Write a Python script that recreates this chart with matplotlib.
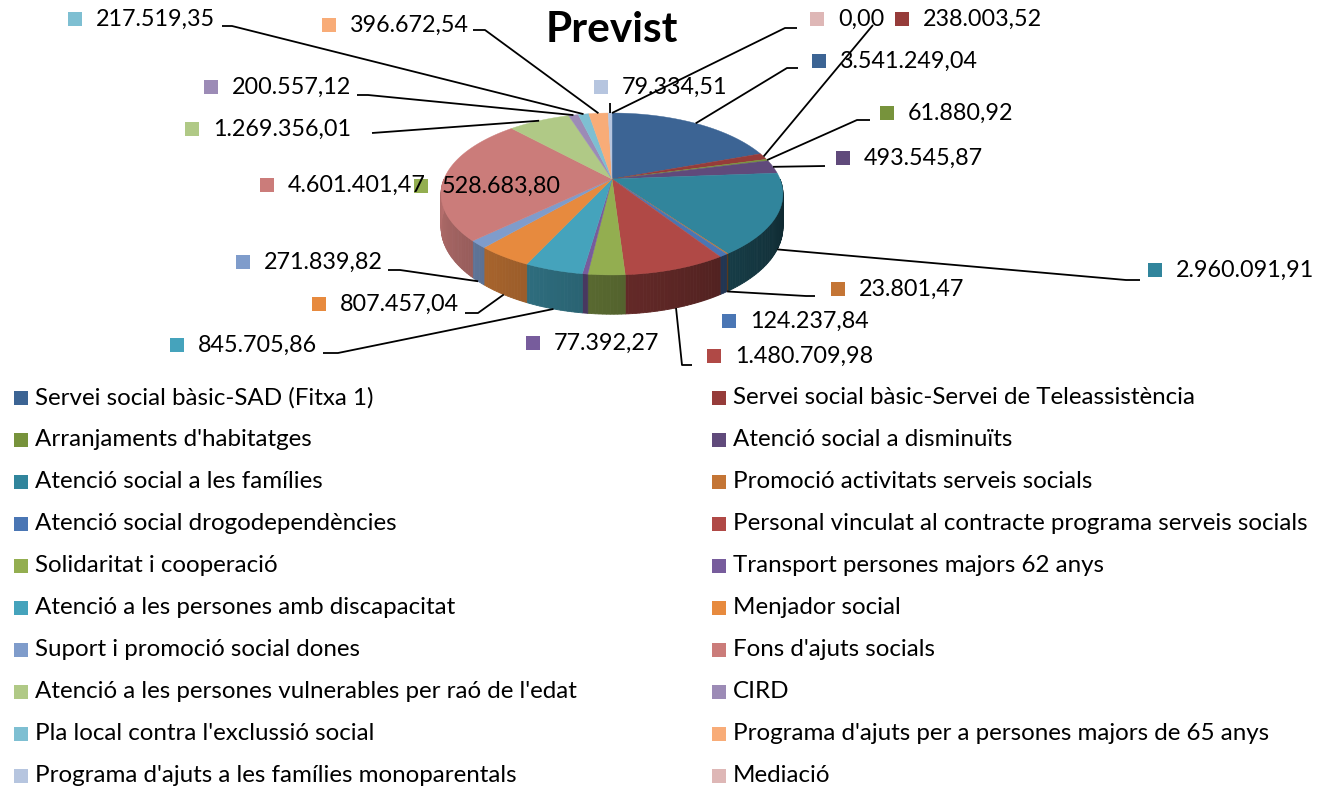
import numpy as np
import matplotlib
matplotlib.use('Agg')
import matplotlib.pyplot as plt
from matplotlib.patches import Polygon, Rectangle
from matplotlib.colors import to_rgb

plt.rcParams['font.family'] = ['Lato', 'DejaVu Sans']

# Data: budget items ("Previst"), in pie order (clockwise from 12 o'clock)
categories = [
    "Servei social bàsic-SAD (Fitxa 1)",
    "Servei social bàsic-Servei de Teleassistència",
    "Arranjaments d'habitatges",
    "Atenció social a disminuïts",
    "Atenció social a les famílies",
    "Promoció activitats serveis socials",
    "Atenció social drogodependències",
    "Personal vinculat al contracte programa serveis socials",
    "Solidaritat i cooperació",
    "Transport persones majors 62 anys",
    "Atenció a les persones amb discapacitat",
    "Menjador social",
    "Suport i promoció social dones",
    "Fons d'ajuts socials",
    "Atenció a les persones vulnerables per raó de l'edat",
    "CIRD",
    "Pla local contra l'exclussió social",
    "Programa d'ajuts per a persones majors de 65 anys",
    "Programa d'ajuts a les famílies monoparentals",
    "Mediació",
]
values = [3541249.04, 238003.52, 61880.92, 493545.87, 2960091.91, 23801.47,
          124237.84, 1480709.98, 528683.80, 77392.27, 845705.86, 807457.04,
          271839.82, 4601401.47, 1269356.01, 200557.12, 217519.35, 396672.54,
          79334.51, 0.00]
colors = ['#3C6494', '#963C3A', '#77933C', '#604A7B', '#31859C', '#C47535',
          '#4A76B4', '#B04946', '#93AE50', '#775C9C', '#45A3BC', '#E78A3E',
          '#7F9CCB', '#CB7C7A', '#B0C986', '#9C8BB6', '#7EBFD2', '#F8AC78',
          '#B6C5DF', '#DEB7B6']

# label layout: marker left x, centre y, leader stub (p0 at label, p1 elbow) or None
label_pos = [(812, 61), (895, 19), (880, 113), (836, 158), (1148, 270), (831, 289),
             (722, 321), (707, 356), (414, 186), (526, 343), (170, 345), (312, 304),
             (236, 262), (260, 185), (185, 129), (204, 87), (68, 19), (322, 25),
             (594, 87), (810, 19)]
leaders = [((798, 68), (787, 68)), ((873, 25), (873, 25)), ((870, 120), (857, 120)),
           ((825, 166), (825, 166)), ((1140, 280), (1126, 280)), ((815, 296), (806, 296)),
           None, ((692, 365), (682, 365)), None, None,
           ((323, 353), (338, 353)), ((465, 313), (478, 313)), ((388, 270), (400, 270)),
           None, ((372, 133), (372, 133)), ((357, 95), (368, 95)), ((222, 26), (232, 26)),
           ((473, 30), (485, 30)), ((610, 103), (610, 103)), ((797, 28), (785, 28))]

# pie projection (pixel space)
CX, AY, A, B, K, H = 612, 179, 168, 78.2, 0.185, 32


def proj(theta, drop=False):
    t = np.radians(theta)
    X, Y = np.sin(t), -np.cos(t)
    d = 1 - K * Y
    return CX + A * X / d, AY + B * Y / d + (H / d if drop else 0)


def shade(c, theta):
    f = np.clip(0.26 + 0.64 * (theta - 90) / 180, 0.22, 0.92)
    return tuple(np.array(to_rgb(c)) * f)


def fmt(v):
    s = f"{v:,.2f}"
    return s.replace(',', '#').replace('.', ',').replace('#', '.')


fig = plt.figure(figsize=(13.27, 7.90), dpi=100)
ax = fig.add_axes([0, 0, 1, 1])
ax.set_xlim(0, 1327)
ax.set_ylim(790, 0)
ax.axis('off')

total = sum(values)
bounds = np.concatenate([[0], np.cumsum(values) / total * 360])

# side walls (front half)
for i, c in enumerate(colors):
    a0, a1 = max(bounds[i], 90), min(bounds[i + 1], 270)
    if a1 <= a0:
        continue
    n = max(int((a1 - a0) / 1.0), 1)
    ts = np.linspace(a0, a1, n + 1)
    for t0, t1 in zip(ts[:-1], ts[1:]):
        pts = [proj(t0), proj(t1), proj(t1, True), proj(t0, True)]
        col = shade(c, (t0 + t1) / 2)
        ax.add_patch(Polygon(pts, closed=True, facecolor=col, edgecolor=col, lw=0.6))

# top faces
for i, c in enumerate(colors):
    a0, a1 = bounds[i], bounds[i + 1]
    if a1 - a0 <= 0:
        continue
    ts = np.linspace(a0, a1, max(int((a1 - a0) / 0.5), 2))
    pts = [(CX, AY)] + [proj(t) for t in ts]
    ax.add_patch(Polygon(pts, closed=True, facecolor=c, edgecolor=c, lw=0.3))

# data labels with leader lines
for i, v in enumerate(values):
    mx, my = label_pos[i]
    ax.add_patch(Rectangle((mx, my - 7), 14, 14, facecolor=colors[i], edgecolor='none'))
    ax.text(mx + 28, my, fmt(v), fontsize=16.8, va='center', ha='left', color='black')
    if leaders[i] is not None:
        mid = (bounds[i] + bounds[i + 1]) / 2
        ex, ey = proj(mid, drop=(90 < mid < 270))
        (x0, y0), (x1, y1) = leaders[i]
        ax.plot([x0, x1, ex], [y0, y1, ey], color='black', lw=1.3, solid_capstyle='butt')

ax.text(612, 30, "Previst", fontsize=30.5, fontweight='bold', ha='center', va='center')

# legend, two columns
for i, name in enumerate(categories):
    row, col = divmod(i, 2)
    y = 398 + 42 * row
    x = 14 if col == 0 else 712
    ax.add_patch(Rectangle((x, y - 7), 14, 14, facecolor=colors[i], edgecolor='none'))
    ax.text(x + 21, y, name, fontsize=17.4, va='center', ha='left', color='black')

fig.savefig('out.png', dpi=100)
